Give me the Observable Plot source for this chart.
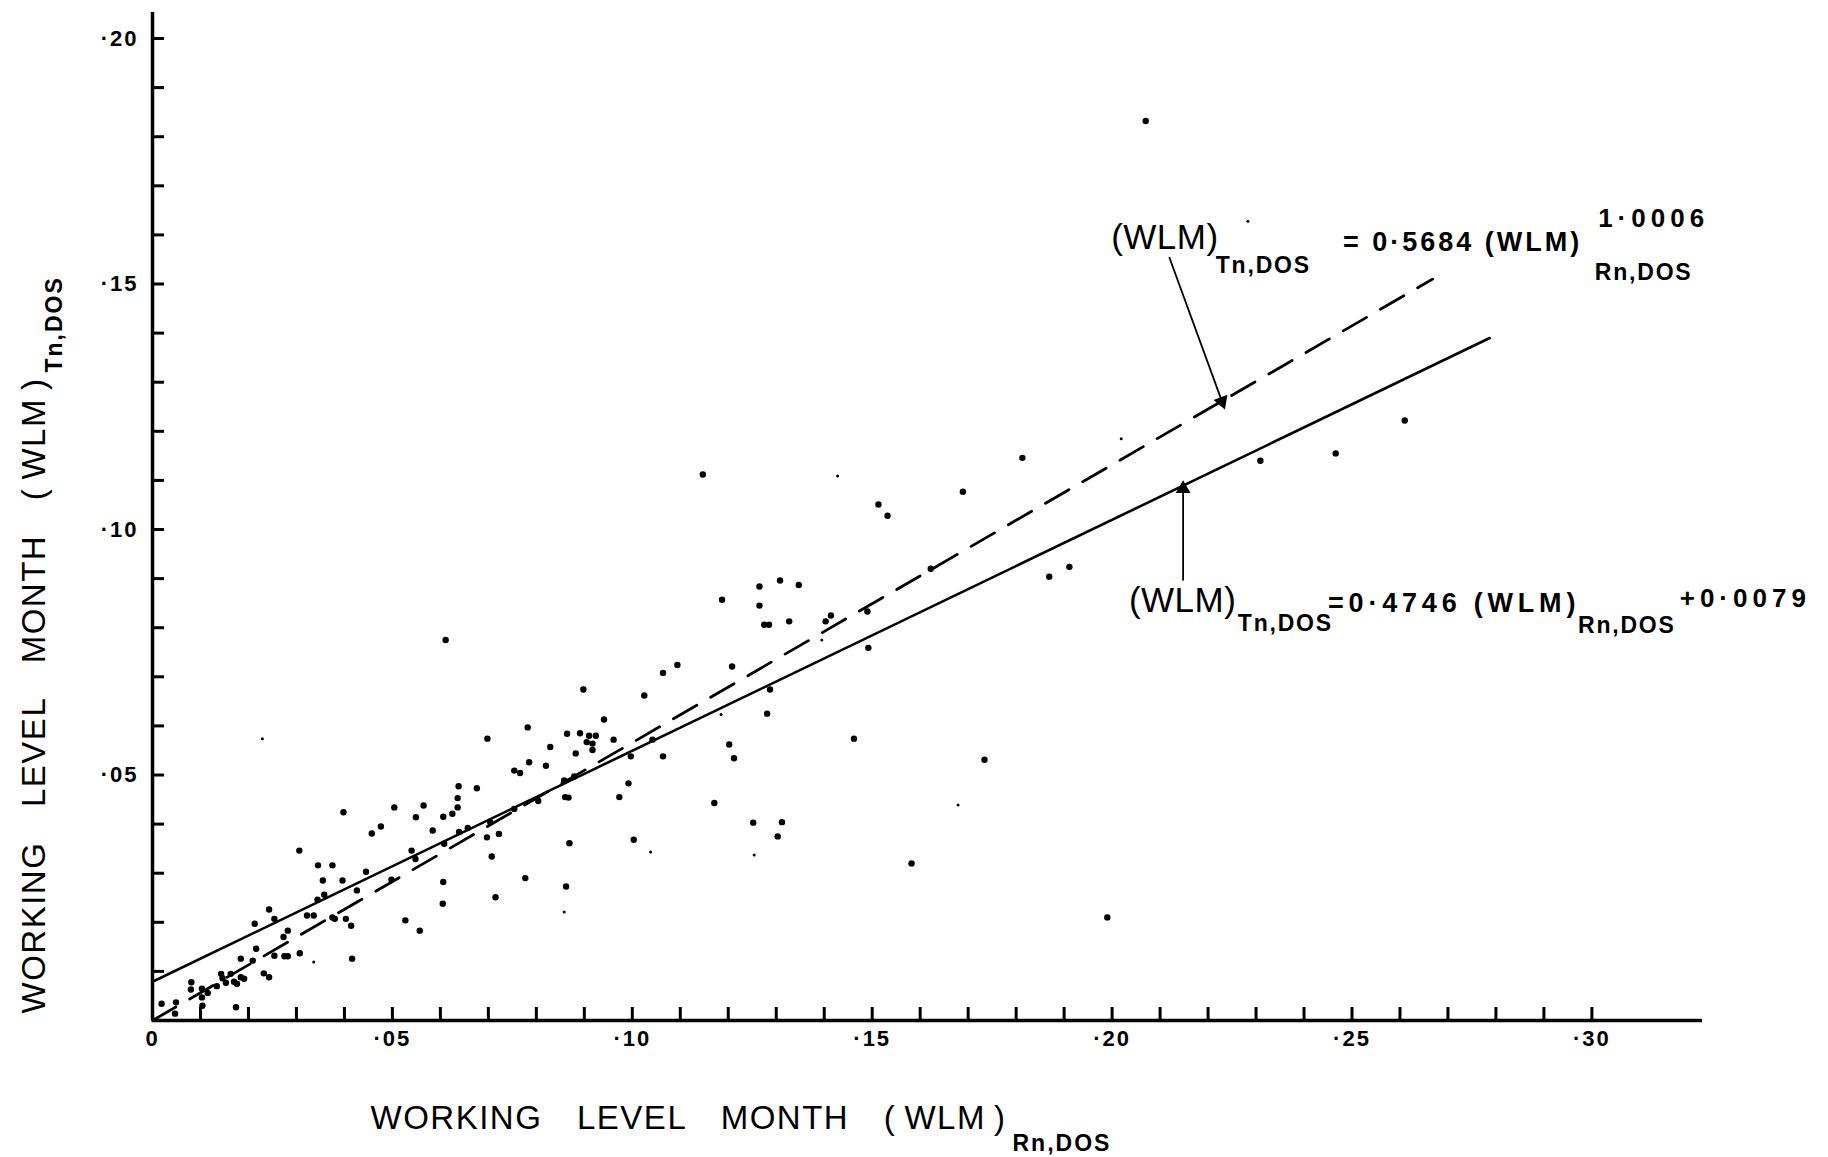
<!DOCTYPE html>
<html>
<head>
<meta charset="utf-8">
<script src="https://cdn.jsdelivr.net/npm/d3@7"></script>
<script src="https://cdn.jsdelivr.net/npm/@observablehq/plot@0.6"></script>
<style>
  html, body { margin: 0; padding: 0; background: #fff; }
  svg { display: block; }
  g[aria-label="x-axis tick label"] text, g[aria-label="y-axis tick label"] text { letter-spacing: 2px; }
</style>
</head>
<body>
<div id="chart"></div>
<script>
// ---- axis ticks ----
const xTickValues = [0, 0.05, 0.10, 0.15, 0.20, 0.25, 0.30];
const xTickLabels = ["0", "·05", "·10", "·15", "·20", "·25", "·30"];
const yTickValues = [0.05, 0.10, 0.15, 0.20];
const yTickLabels = ["·05", "·10", "·15", "·20"];
const minorX = d3.range(1, 31).map(i => i / 100);
const minorY = d3.range(1, 21).map(i => i / 100);

// ---- scatter: (WLM) Rn,DOS vs (WLM) Tn,DOS ----
const rnDos = [
  0.0019,0.0047,0.0049,0.0081,0.0080,0.0103,0.0103,0.0115,0.0104,0.0134,
  0.0143,0.0153,0.0146,0.0163,0.0170,0.0176,0.0184,0.0191,0.0174,0.0184,
  0.0213,0.0216,0.0209,0.0232,0.0243,0.0243,0.0254,0.0254,0.0275,0.0282,
  0.0273,0.0282,0.0306,0.0307,0.0322,0.0336,0.0344,0.0345,0.0355,0.0358,
  0.0375,0.0375,0.0380,0.0396,0.0398,0.0403,0.0414,0.0416,0.0426,0.0445,
  0.0457,0.0476,0.0498,0.0504,0.0527,0.0540,0.0548,0.0549,0.0557,0.0565,
  0.0584,0.0605,0.0606,0.0606,0.0608,0.0625,0.0636,0.0636,0.0638,0.0639,
  0.0657,0.0676,0.0698,0.0697,0.0707,0.0715,0.0722,0.0704,0.0754,0.0766,
  0.0777,0.0782,0.0785,0.0804,0.0820,0.0829,0.0858,0.0860,0.0867,0.0862,
  0.0869,0.0864,0.0882,0.0891,0.0905,0.0910,0.0924,0.0917,0.0917,0.0941,
  0.0961,0.0973,0.0992,0.0879,0.0754,0.0611,0.0898,0.0997,0.1003,0.1025,
  0.1042,0.1064,0.1064,0.1094,0.1147,0.1171,0.1187,0.1202,0.1212,0.1208,
  0.1252,0.1265,0.1265,0.1275,0.1285,0.1281,0.1287,0.1303,0.1308,0.1312,
  0.1327,0.1347,0.1403,0.1414,0.1490,0.1492,0.1462,0.1513,0.1532,0.1582,
  0.1622,0.1689,0.1734,0.1813,0.1869,0.1911,0.1990,0.2070,0.2309,0.2466,
  0.2610
];
const tnDos = [
  0.0034,0.0014,0.0037,0.0078,0.0063,0.0065,0.0047,0.0056,0.0030,0.0070,
  0.0095,0.0077,0.0086,0.0095,0.0079,0.0075,0.0088,0.0085,0.0027,0.0126,
  0.0197,0.0146,0.0122,0.0096,0.0088,0.0226,0.0207,0.0132,0.0131,0.0131,
  0.0170,0.0183,0.0346,0.0137,0.0214,0.0214,0.0246,0.0316,0.0285,0.0256,
  0.0316,0.0210,0.0207,0.0285,0.0424,0.0207,0.0193,0.0126,0.0265,0.0303,
  0.0381,0.0395,0.0287,0.0434,0.0204,0.0346,0.0329,0.0414,0.0183,0.0438,
  0.0387,0.0238,0.0282,0.0415,0.0360,0.0421,0.0434,0.0453,0.0477,0.0384,
  0.0392,0.0473,0.0574,0.0373,0.0334,0.0251,0.0380,0.0404,0.0509,0.0504,
  0.0290,0.0597,0.0526,0.0447,0.0519,0.0557,0.0489,0.0455,0.0454,0.0273,
  0.0361,0.0584,0.0544,0.0585,0.0567,0.0580,0.0580,0.0564,0.0551,0.0613,
  0.0572,0.0455,0.0483,0.0497,0.0431,0.0775,0.0674,0.0538,0.0368,0.0662,
  0.0572,0.0538,0.0708,0.0724,0.1112,0.0443,0.0857,0.0562,0.0534,0.0721,
  0.0403,0.0884,0.0845,0.0806,0.0806,0.0625,0.0674,0.0375,0.0896,0.0404,
  0.0813,0.0887,0.0813,0.0825,0.0833,0.0759,0.0574,0.1051,0.1028,0.0320,
  0.0920,0.1077,0.0531,0.1146,0.0904,0.0924,0.0210,0.1832,0.1140,0.1155,
  0.1222
];
// faint, small marks
const faintRn = [0.0229, 0.0336, 0.0858, 0.1038, 0.1185, 0.1254, 0.1395, 0.1428, 0.1679, 0.2019, 0.2283];
const faintTn = [0.0574, 0.0119, 0.0221, 0.0343, 0.0623, 0.0337, 0.0775, 0.1109, 0.0439, 0.1185, 0.1628];

// ---- fitted lines (end points) ----
const linearFitRn = [0, 0.2787];
const linearFitTn = [0.0079, 0.1390];
const powerFitRn = [0, 0.2668];
const powerFitTn = [0, 0.1510];

// ---- text ----
const axisTitle = "WORKING LEVEL MONTH (\u2009WLM\u2009)";
const xSub = "Rn,DOS";
const ySub = "Tn,DOS";

// annotation layout (positions in data units)
const eqMain = [
  {text: "(WLM)", x: 0.1998, y: 0.1572},
  {text: "(WLM)", x: 0.2035, y: 0.0833}
];
const eqSub = [
  {text: "Tn,DOS", x: 0.2216, y: 0.1523},
  {text: "Rn,DOS", x: 0.3006, y: 0.1509},
  {text: "Tn,DOS", x: 0.2262, y: 0.0794},
  {text: "Rn,DOS", x: 0.2971, y: 0.0790}
];
const eqBody1 = [{text: "= 0·5684 (WLM)", x: 0.2481, y: 0.1568}];
const eqBody2 = [{text: "=0·4746 (WLM)", x: 0.2450, y: 0.0831}];
const eqExp = [
  {text: "1·0006", x: 0.3013, y: 0.1617},
  {text: "+0·0079", x: 0.3183, y: 0.0843}
];
const arrows = [
  {x1: 0.2119, y1: 0.1555, x2: 0.2229, y2: 0.1261, angle: 160},
  {x1: 0.2148, y1: 0.0896, x2: 0.2148, y2: 0.1083, angle: 0}
];

const points = rnDos.map((x, i) => ({x, y: tnDos[i]}));
const faint = faintRn.map((x, i) => ({x, y: faintTn[i]}));
const linearFit = linearFitRn.map((x, i) => ({x, y: linearFitTn[i]}));
const powerFit = powerFitRn.map((x, i) => ({x, y: powerFitTn[i]}));

const W = 1828, H = 1157;
const mL = 152, mR = 126, mT = 12, mB = 137;
const frameW = W - mL - mR, frameH = H - mT - mB;
const font = "'Liberation Sans', Arial, Helvetica, sans-serif";

const cls = (name) => () => name;
const txt = (data, size, weight, name) => Plot.text(data, {x: "x", y: "y", text: "text",
  textAnchor: "start", lineAnchor: "bottom", fontSize: size, fontWeight: weight, ariaLabel: cls(name)});

const chart = Plot.plot({
  width: W, height: H,
  marginLeft: mL, marginRight: mR, marginTop: mT, marginBottom: mB,
  x: {domain: [0, frameW / 4798]},
  y: {domain: [0, 0.2053]},
  style: {background: "#fff", color: "#000", fontFamily: font, overflow: "visible"},
  marks: [
    // minor ticks (inward)
    Plot.ruleX(minorX, {insetTop: frameH - 13, stroke: "#000", strokeWidth: 3}),
    Plot.ruleY(minorY, {insetRight: frameW - 12, stroke: "#000", strokeWidth: 3}),
    // axis lines
    Plot.ruleX([0], {stroke: "#000", strokeWidth: 3.5}),
    Plot.ruleY([0], {stroke: "#000", strokeWidth: 3.5}),
    Plot.axisX({ticks: xTickValues, tickFormat: d => xTickLabels[xTickValues.indexOf(d)],
      tickSize: 0, tickPadding: 10, fontSize: 22, fontWeight: "bold", label: null}),
    Plot.axisY({ticks: yTickValues, tickFormat: d => yTickLabels[yTickValues.indexOf(d)],
      tickSize: 0, tickPadding: 14, fontSize: 22, fontWeight: "bold", label: null}),
    // fitted lines
    Plot.line(linearFit, {x: "x", y: "y", stroke: "#000", strokeWidth: 2.6}),
    Plot.line(powerFit, {x: "x", y: "y", stroke: "#000", strokeWidth: 2.8, strokeDasharray: "27,16"}),
    // data
    Plot.dot(points, {x: "x", y: "y", r: 3.2, fill: "#000", stroke: "none"}),
    Plot.dot(faint, {x: "x", y: "y", r: 1.5, fill: "#000", stroke: "none"}),
    // annotation arrows
    Plot.link(arrows, {x1: "x1", y1: "y1", x2: "x2", y2: "y2", stroke: "#000", strokeWidth: 1.8}),
    Plot.dot(arrows, {x: "x2", y: "y2", symbol: "triangle", rotate: "angle", r: 5.5, fill: "#000", stroke: "none"}),
    // equations
    txt(eqMain, 35, "normal", "eq-main"),
    txt(eqSub, 23, "bold", "eq-sub"),
    txt(eqBody1, 27, "bold", "eq-body1"),
    txt(eqBody2, 27, "bold", "eq-body2"),
    txt(eqExp, 26, "bold", "eq-exp"),
    // axis titles
    Plot.text([axisTitle], {text: d => d, frameAnchor: "bottom-left", dx: 218, dy: 108,
      textAnchor: "start", lineAnchor: "bottom", fontSize: 33, fontWeight: "normal", ariaLabel: cls("axis-title")}),
    Plot.text([xSub], {text: d => d, frameAnchor: "bottom-left", dx: 860, dy: 130,
      textAnchor: "start", lineAnchor: "bottom", fontSize: 23, fontWeight: "bold", ariaLabel: cls("axis-sub")}),
    Plot.text([axisTitle], {text: d => d, frameAnchor: "bottom-left", dx: -108, dy: -7, rotate: -90,
      textAnchor: "start", lineAnchor: "bottom", fontSize: 33, fontWeight: "normal", ariaLabel: cls("axis-title")}),
    Plot.text([ySub], {text: d => d, frameAnchor: "bottom-left", dx: -91, dy: -648, rotate: -90,
      textAnchor: "start", lineAnchor: "bottom", fontSize: 23, fontWeight: "bold", ariaLabel: cls("axis-sub")})
  ]
});

// letter / word spacing of the hand-lettered texts
const spacingRules = {
  "axis-title": {ls: "1.5px", ws: "24px"},
  "axis-sub": {ls: "2px", ws: "0px"},
  "eq-main": {ls: "0.5px", ws: "0px"},
  "eq-sub": {ls: "1.8px", ws: "0px"},
  "eq-body1": {ls: "3px", ws: "0px"},
  "eq-body2": {ls: "4.8px", ws: "0px"},
  "eq-exp": {ls: "5px", ws: "0px"}
};
d3.select(chart).selectAll("text[aria-label]").each(function () {
  const rule = spacingRules[this.getAttribute("aria-label")];
  if (rule) {
    this.style.letterSpacing = rule.ls;
    this.style.wordSpacing = rule.ws;
  }
});
document.getElementById("chart").appendChild(chart);
</script>
</body>
</html>
